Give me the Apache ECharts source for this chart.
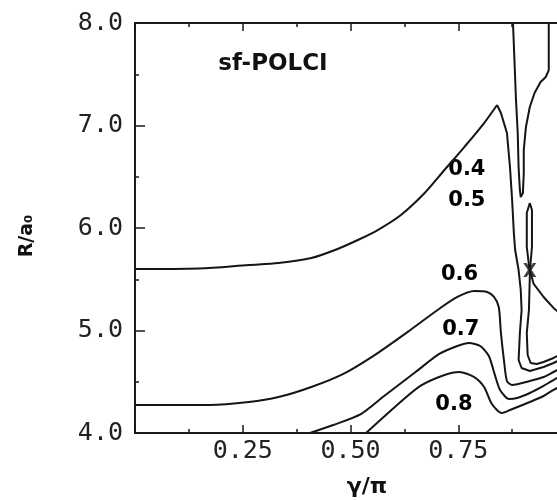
<!DOCTYPE html>
<html>
<head>
<meta charset="utf-8">
<script src="https://cdn.jsdelivr.net/npm/echarts@6/dist/echarts.min.js"></script>
<style>
html,body{margin:0;padding:0;background:#fff;overflow:hidden;width:557px;height:500px;}
#c{width:569px;height:500px;}
</style>
</head>
<body>
<div id="c"></div>
<script>
// gamma/pi, R/a0 pairs
const contourUpperRise = [[0,5.600],[0.149,5.605],[0.264,5.639],[0.333,5.659],[0.409,5.707],[0.464,5.785],[0.517,5.883],[0.563,5.980],[0.617,6.127],[0.672,6.341],[0.718,6.566],[0.764,6.790],[0.810,7.024],[0.840,7.200]];
const contourUpperFall = [[0.840,7.200],[0.849,7.122],[0.863,6.927],[0.870,6.595],[0.875,6.273],[0.879,5.951],[0.882,5.785],[0.890,5.590],[0.895,5.395],[0.897,5.200],[0.893,4.976],[0.890,4.712],[0.897,4.634],[0.916,4.605],[0.948,4.644],[0.971,4.683],[0.999,4.741]];
const contourTongue = [[0.877,8.0],[0.881,7.571],[0.884,7.249],[0.888,6.927],[0.890,6.595],[0.893,6.371],[0.895,6.302],[0.900,6.341],[0.902,6.537],[0.902,6.761],[0.907,6.985],[0.916,7.180],[0.927,7.317],[0.941,7.424],[0.953,7.473],[0.960,7.541],[0.960,7.737],[0.960,8.0]];
const contourLoopLeft = [[0.916,6.244],[0.909,6.146],[0.909,5.815],[0.914,5.639],[0.916,5.590],[0.916,5.522],[0.914,5.200],[0.909,4.976],[0.911,4.761],[0.918,4.683],[0.932,4.673],[0.948,4.693],[0.971,4.732],[0.999,4.790]];
const contourLoopRight = [[0.916,6.244],[0.921,6.176],[0.921,5.815],[0.918,5.668],[0.916,5.590],[0.925,5.454],[0.948,5.327],[0.971,5.220],[0.999,5.122]];
const contour06 = [[0,4.273],[0.172,4.273],[0.264,4.302],[0.333,4.351],[0.409,4.449],[0.487,4.585],[0.563,4.780],[0.639,5.005],[0.702,5.200],[0.748,5.327],[0.787,5.385],[0.817,5.376],[0.833,5.327],[0.844,5.229],[0.849,4.976],[0.856,4.712],[0.863,4.507],[0.875,4.468],[0.916,4.507],[0.948,4.546],[0.971,4.595],[0.999,4.654]];
const contour07 = [[0.406,4.0],[0.460,4.078],[0.524,4.185],[0.575,4.351],[0.651,4.595],[0.706,4.771],[0.748,4.849],[0.775,4.878],[0.801,4.849],[0.821,4.751],[0.835,4.566],[0.847,4.420],[0.868,4.332],[0.886,4.341],[0.916,4.390],[0.948,4.459],[0.971,4.517],[0.999,4.576]];
const contour08 = [[0.536,4.0],[0.603,4.254],[0.662,4.459],[0.718,4.566],[0.752,4.595],[0.787,4.546],[0.810,4.449],[0.828,4.283],[0.851,4.195],[0.870,4.224],[0.916,4.302],[0.948,4.361],[0.971,4.420],[0.999,4.478]];
const saddlePoint = [[0.916,5.59]];
const contourLabelNames = ['0.4','0.5','0.6','0.7','0.8'];
const contourLabelPos = [[0.770,6.571],[0.770,6.268],[0.753,5.546],[0.756,5.010],[0.740,4.278]];
const xTickLabels = ['0.25','0.50','0.75'];
const yTickLabels = ['4.0','5.0','6.0','7.0','8.0'];
const titleText = 'sf-POLCI';
const xName = 'γ/π';
const yName = 'R/a₀';

const chart = echarts.init(document.getElementById('c'), null, {renderer:'canvas'});
const lineCol = '#151515';
const lines = [
  [contourUpperRise, 0.3], [contourUpperFall, 0], [contourTongue, 0],
  [contourLoopLeft, 0], [contourLoopRight, 0],
  [contour06, 0.25], [contour07, 0.25], [contour08, 0.25]
];
const series = lines.map(([d, sm]) => ({
  type:'line', data:d, showSymbol:false, symbol:'none', smooth:sm, clip:true,
  lineStyle:{color:lineCol, width:2}, silent:true, animation:false
}));
series.push({
  type:'scatter', data:saddlePoint, symbol:'path://M0,0 L2.6,0 L5,3.2 L7.4,0 L10,0 L6.5,5 L10,10 L7.4,10 L5,6.8 L2.6,10 L0,10 L3.5,5 Z',
  symbolSize:[13,14], itemStyle:{color:lineCol}, animation:false, silent:true
});
series.push({
  type:'scatter', symbolSize:2, itemStyle:{color:'rgba(255,255,255,0)'}, animation:false, silent:true,
  data: contourLabelNames.map((n,i)=>({name:n, value:contourLabelPos[i]})),
  label:{show:true, position:'inside', formatter:p=>p.name, color:'#000', opacity:1,
    textBorderWidth:0, fontFamily:'DejaVu Sans', fontWeight:'bold', fontSize:21}
});

const axisLineStyle = {color:'#1a1a1a', width:2};
const tickFont = {fontFamily:'DejaVu Sans Mono', fontSize:25, color:'#222'};

chart.setOption({
  animation:false,
  backgroundColor:'#fff',
  grid:{left:135, top:23, right:0, bottom:67, containLabel:false},
  xAxis:[{
    type:'value', min:0, max:1, interval:0.25, position:'bottom',
    axisLine:{show:true, lineStyle:axisLineStyle},
    axisTick:{show:true, inside:true, length:8, lineStyle:{color:'#1a1a1a', width:1.5}},
    minorTick:{show:true, splitNumber:2, length:4, lineStyle:{color:'#1a1a1a', width:1.5}},
    splitLine:{show:false},
    axisLabel:Object.assign({margin:6, formatter:v=>{const s=v.toFixed(2); return xTickLabels.indexOf(s)>=0?s:'';}}, tickFont)
  },{
    type:'value', min:0, max:1, interval:0.25, position:'top',
    axisLine:{show:true, lineStyle:axisLineStyle},
    axisTick:{show:true, inside:true, length:8, lineStyle:{color:'#1a1a1a', width:1.5}},
    minorTick:{show:true, splitNumber:2, length:4, lineStyle:{color:'#1a1a1a', width:1.5}},
    splitLine:{show:false}, axisLabel:{show:false}
  }],
  yAxis:[{
    type:'value', min:4, max:8, interval:1, position:'left',
    axisLine:{show:true, lineStyle:axisLineStyle},
    axisTick:{show:true, inside:true, length:10, lineStyle:{color:'#1a1a1a', width:1.5}},
    minorTick:{show:true, splitNumber:2, length:4, lineStyle:{color:'#1a1a1a', width:1.5}},
    splitLine:{show:false},
    axisLabel:Object.assign({margin:12, formatter:v=>{const s=v.toFixed(1); return yTickLabels.indexOf(s)>=0?s:'';}}, tickFont)
  }],
  series: series,
  graphic:[
    {type:'text', x:273, y:64, style:{text:titleText, font:'bold 23px "DejaVu Sans"', fill:'#111', align:'center', verticalAlign:'middle'}},
    {type:'text', x:367, y:487, style:{text:xName, font:'bold 22px "DejaVu Sans"', fill:'#111', align:'center', verticalAlign:'middle'}},
    {type:'text', x:27, y:236, rotation:Math.PI/2, style:{text:yName, font:'bold 19px "DejaVu Sans"', fill:'#111', align:'center', verticalAlign:'middle'}}
  ]
});
</script>
</body>
</html>
